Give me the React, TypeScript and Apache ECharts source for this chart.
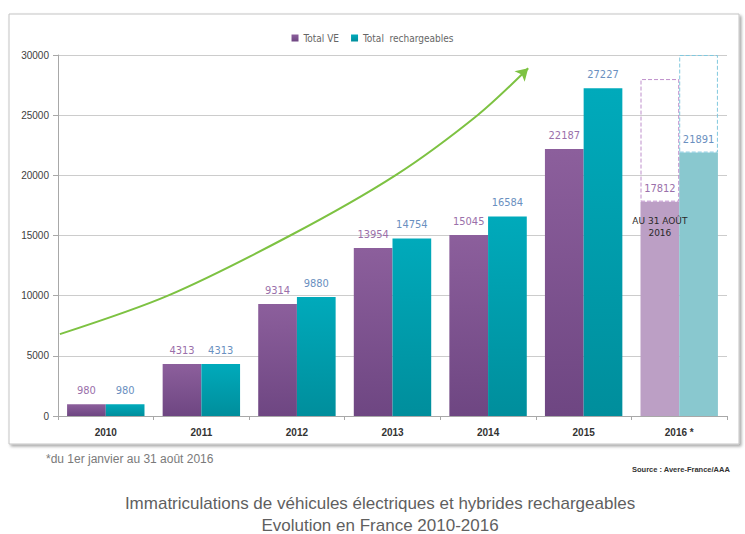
import React, { useEffect, useRef } from "react";
import * as echarts from "echarts";

const categories = ["2010", "2011", "2012", "2013", "2014", "2015", "2016 *"];
const totalVE = [980, 4313, 9314, 13954, 15045, 22187, 17812];
const totalRech = [980, 4313, 9880, 14754, 16584, 27227, 21891];
const boxTopVE2016 = 28000;
const boxTopRech2016 = 30000;
const trendX = [-0.48, 0.65, 1.93, 3.03, 3.89, 4.42];
const trendY = [6800, 10000, 15000, 20000, 25000, 28900];
const seriesNames = ["Total VE", "Total  rechargeables"];

export default function App() {
  const ref = useRef<HTMLDivElement>(null);
  useEffect(() => {
    if (!ref.current) return;
    const chart = echarts.init(ref.current, undefined, { renderer: "svg" });
    const last = categories.length - 1;
    const veGrad = new echarts.graphic.LinearGradient(0, 0, 0, 1, [
      { offset: 0, color: "#8C5F9C" },
      { offset: 1, color: "#6E4682" },
    ]);
    const rechGrad = new echarts.graphic.LinearGradient(0, 0, 0, 1, [
      { offset: 0, color: "#00AABB" },
      { offset: 1, color: "#008E9C" },
    ]);
    const veData = totalVE.map((v, i) =>
      i === last ? { value: v, itemStyle: { color: "#BC9FC5" } } : v
    );
    const rechData = totalRech.map((v, i) =>
      i === last ? { value: v, itemStyle: { color: "#89C8CF" } } : v
    );
    const ghostVE = categories.map((_, i) => (i === last ? boxTopVE2016 - totalVE[i] : null));
    const ghostRech = categories.map((_, i) => (i === last ? boxTopRech2016 - totalRech[i] : null));
    const trend = trendX.map((x, i) =>
      i === trendX.length - 1
        ? { value: [x, trendY[i]], symbol: "arrow", symbolSize: [11, 12], symbolRotate: -46 }
        : { value: [x, trendY[i]] }
    );
    const labelFont = "'Liberation Sans Narrow', 'DejaVu Sans Condensed', sans-serif";

    chart.setOption({
      animation: false,
      backgroundColor: "#ffffff",
      graphic: [
        {
          type: "rect",
          z: -10,
          shape: { x: 9, y: 14, width: 730, height: 430 },
          style: {
            fill: "#ffffff",
            stroke: "#C4C4C4",
            lineWidth: 1,
            shadowBlur: 3,
            shadowOffsetX: 2,
            shadowOffsetY: 2,
            shadowColor: "rgba(0,0,0,0.35)",
          },
        },
        {
          type: "text",
          x: 46,
          y: 453,
          style: {
            text: "*du 1er janvier au 31 août 2016",
            fill: "#7a7a7a",
            font: "12px 'Liberation Sans Narrow', sans-serif",
          },
        },
        {
          type: "text",
          x: 632,
          y: 465,
          style: {
            text: "Source : Avere-France/AAA",
            fill: "#333333",
            font: "bold 7.5px 'Liberation Sans', sans-serif",
          },
        },
        {
          type: "text",
          x: 380,
          y: 492,
          style: {
            text: "Immatriculations de véhicules électriques et hybrides rechargeables\nEvolution en France 2010-2016",
            fill: "#5f5f5f",
            align: "center",
            lineHeight: 22,
            font: "17px 'Liberation Sans Narrow', 'Arial Narrow', sans-serif",
          },
        },
      ],
      legend: {
        data: seriesNames,
        top: 28,
        left: "center",
        itemWidth: 7,
        itemHeight: 7,
        itemGap: 12,
        icon: "rect",
        textStyle: { fontSize: 10, color: "#666666", fontFamily: labelFont },
      },
      grid: { left: 58, right: 18, top: 55, bottom: 118 },
      xAxis: [
        {
          type: "category",
          data: categories,
          axisLine: { lineStyle: { color: "#A8A8A8" } },
          axisTick: { show: true, length: 4, lineStyle: { color: "#A8A8A8" } },
          axisLabel: { fontSize: 10, fontWeight: "bold", color: "#333333", margin: 11, fontFamily: "'Liberation Sans', sans-serif" },
        },
        { type: "value", show: false, min: -0.5, max: 6.5, axisLine: { show: false }, splitLine: { show: false } },
      ],
      yAxis: {
        type: "value",
        min: 0,
        max: 30000,
        interval: 5000,
        axisLine: { show: true, onZero: false, lineStyle: { color: "#A8A8A8" } },
        axisTick: { show: true, length: 5, lineStyle: { color: "#A8A8A8" } },
        axisLabel: {
          fontSize: 10,
          color: "#404040",
          margin: 9,
          fontFamily: "'Liberation Sans', sans-serif",
          formatter: (v: number) => String(v),
        },
        splitLine: { lineStyle: { color: "#CCCCCC" } },
      },
      series: [
        {
          name: seriesNames[0],
          type: "bar",
          stack: "ve",
          data: veData,
          color: "#7B4F8E",
          itemStyle: { color: veGrad },
          barGap: "0%",
          barCategoryGap: "19%",
          label: {
            show: true,
            position: "top",
            distance: 8,
            color: "#9A70AA",
            fontSize: 11,
            fontFamily: labelFont,
          },
          markPoint: {
            symbol: "rect",
            symbolSize: 1,
            itemStyle: { color: "transparent" },
            data: [
              {
                coord: [categories[last], 15700],
                label: {
                  show: true,
                  position: "inside",
                  formatter: "AU 31 AOÛT\n2016",
                  color: "#2a2a2a",
                  fontSize: 9,
                  lineHeight: 12,
                  fontFamily: "'DejaVu Sans', sans-serif",
                },
              },
            ],
          },
        },
        {
          name: seriesNames[1],
          type: "bar",
          stack: "rech",
          data: rechData,
          color: "#00A3B4",
          itemStyle: { color: rechGrad },
          barGap: "0%",
          barCategoryGap: "19%",
          label: {
            show: true,
            position: "top",
            distance: 8,
            color: "#6A90C0",
            fontSize: 11,
            fontFamily: labelFont,
          },
        },
        {
          name: "ghostVE",
          type: "bar",
          stack: "ve",
          data: ghostVE,
          itemStyle: { color: "transparent", borderColor: "#BE8FCB", borderType: "dashed", borderWidth: 1 },
          label: { show: false },
        },
        {
          name: "ghostRech",
          type: "bar",
          stack: "rech",
          data: ghostRech,
          itemStyle: { color: "transparent", borderColor: "#80C8DE", borderType: "dashed", borderWidth: 1 },
          label: { show: false },
        },
        {
          name: "trend",
          type: "line",
          xAxisIndex: 1,
          yAxisIndex: 0,
          smooth: 0.3,
          symbol: "none",
          showSymbol: true,
          data: trend,
          lineStyle: { color: "#7DC242", width: 2 },
          itemStyle: { color: "#7DC242" },
          z: 5,
        },
      ],
    });
    return () => chart.dispose();
  }, []);
  return (
    <div
      ref={ref}
      style={{ position: "absolute", left: 0, top: 0, width: 745, height: 534 }}
    />
  );
}
